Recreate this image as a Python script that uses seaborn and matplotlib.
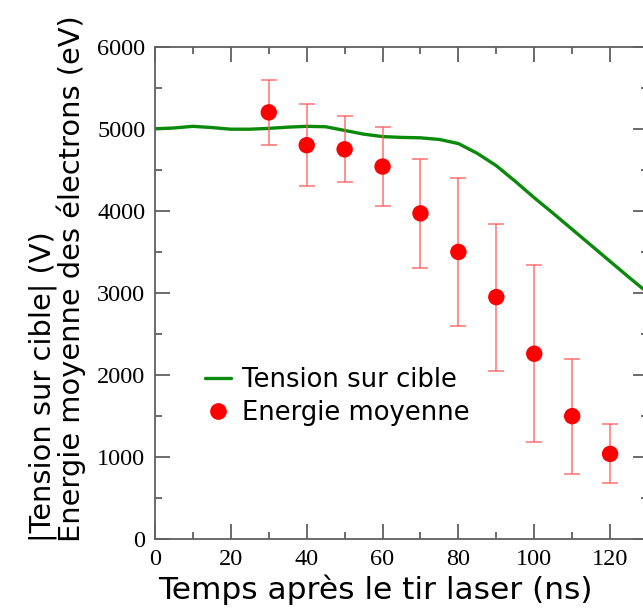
import matplotlib
matplotlib.use("Agg")
import matplotlib.pyplot as plt
import numpy as np
import pandas as pd
import seaborn as sns
from matplotlib.lines import Line2D
from matplotlib.ticker import MultipleLocator

# Tension sur cible (green curve)
tension_time = [0, 5, 10, 15, 20, 25, 30, 35, 40, 45, 50, 55, 60, 65, 70,
                75, 80, 85, 90, 95, 100, 105, 110, 115, 120, 125, 130]
tension_value = [5000, 5010, 5030, 5015, 4995, 4995, 5005, 5020, 5030, 5025,
                 4980, 4935, 4905, 4895, 4890, 4870, 4820, 4700, 4550, 4360,
                 4160, 3970, 3775, 3580, 3385, 3190, 3000]

# Energie moyenne (red points with error bars)
energy_time = [30, 40, 50, 60, 70, 80, 90, 100, 110, 120]
energy_value = [5200, 4800, 4750, 4540, 3970, 3500, 2950, 2260, 1500, 1040]
energy_high = [5600, 5300, 5150, 5020, 4630, 4400, 3840, 3340, 2200, 1400]
energy_low = [4800, 4300, 4350, 4060, 3300, 2600, 2050, 1180, 800, 690]

df_t = pd.DataFrame({"t": tension_time, "v": tension_value})
df_e = pd.DataFrame({"t": energy_time, "e": energy_value,
                     "hi": energy_high, "lo": energy_low})

sns.set_style("ticks")
plt.rcParams["font.family"] = ["DejaVu Sans"]
plt.rcParams["text.color"] = "black"
plt.rcParams["axes.labelcolor"] = "black"
plt.rcParams["xtick.labelcolor"] = "black"
plt.rcParams["ytick.labelcolor"] = "black"

spine_col = "#606060"
fig = plt.figure(figsize=(6.43, 6.12), dpi=100)
ax = fig.add_axes([0.2411, 0.1188, 0.7667, 0.8049])

sns.lineplot(data=df_t, x="t", y="v", ax=ax, color="#0a8a0a", lw=2.4,
             legend=False)

yerr = [df_e["e"] - df_e["lo"], df_e["hi"] - df_e["e"]]
ax.errorbar(df_e["t"], df_e["e"], yerr=yerr, fmt="none", ecolor="#ff5a5a",
            elinewidth=1.1, capsize=6, capthick=1.1, alpha=0.85, zorder=3)
sns.scatterplot(data=df_e, x="t", y="e", ax=ax, color="red", s=140,
                edgecolor="none", zorder=4, legend=False)

ax.set_xlim(0, 130)
ax.set_ylim(0, 6000)
ax.xaxis.set_major_locator(MultipleLocator(20))
ax.xaxis.set_minor_locator(MultipleLocator(10))
ax.yaxis.set_major_locator(MultipleLocator(1000))
ax.yaxis.set_minor_locator(MultipleLocator(500))
ax.tick_params(which="both", direction="in", top=True, right=True,
               color=spine_col, width=1.3)
ax.tick_params(which="major", length=11, pad=7)
ax.tick_params(which="minor", length=5)
for lab in ax.get_xticklabels() + ax.get_yticklabels():
    lab.set_family("Liberation Serif")
    lab.set_fontsize(17.5)
for sp in ax.spines.values():
    sp.set_color(spine_col)
    sp.set_linewidth(1.3)

ax.set_xlabel("Temps après le tir laser (ns)", fontsize=22.5)
ax.xaxis.set_label_coords(0.446, -0.072)
ax.set_ylabel("|Tension sur cible| (V)\nEnergie moyenne des électrons (eV)",
              fontsize=20.8, multialignment="left", linespacing=1.0)
ax.yaxis.set_label_coords(-0.14, 0.53)

handles = [
    Line2D([], [], color="#0a8a0a", lw=2.4),
    Line2D([], [], color="red", marker="o", ls="none", markersize=11),
]
ax.legend(handles, ["Tension sur cible", "Energie moyenne"], frameon=False,
          fontsize=18.6, loc="center left", bbox_to_anchor=(0.075, 0.29),
          handlelength=1.0, handletextpad=0.45, labelspacing=0.25,
          borderpad=0)

fig.savefig("out.png", dpi=100)
